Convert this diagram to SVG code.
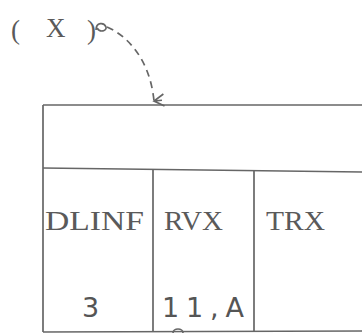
<svg xmlns="http://www.w3.org/2000/svg" width="362" height="335" viewBox="0 0 362 335">
<style>
.ln{stroke:#666;stroke-width:1.7;fill:none}
.tx{font-family:"Liberation Serif","DejaVu Serif",serif;fill:#5a5a5a;font-size:27px}
.nm{font-family:"DejaVu Sans","Liberation Sans",sans-serif;fill:#555;font-size:27px}
</style>
<defs>
<marker id="ah" markerWidth="14" markerHeight="14" refX="7" refY="12" orient="auto" markerUnits="userSpaceOnUse" viewBox="0 0 14 14">
<path d="M1,2 L7,12 L13,2 M7,12 L7,4" stroke="#666" stroke-width="1.7" fill="none"/>
</marker>
</defs>
<rect width="362" height="335" fill="#fff"/>
<g id="label-x">
<text class="tx" x="11" y="39" font-size="38">(</text>
<text class="tx" x="46" y="37">X</text>
<text class="tx" x="87" y="39" font-size="38">)</text>
</g>
<g id="connectors">
<path class="ln" d="M96,30 C96,22 104,22 106,27 C107,31 100,33 97,28" stroke-width="1.2"/>
<path class="ln" d="M107,27 C128,36 150,60 154,101" stroke-dasharray="7,5" marker-end="url(#ah)"/>
</g>
<g id="record">
<path class="ln" d="M43,105 L362,105"/>
<path class="ln" d="M43,105 L43,332"/>
<path class="ln" d="M43,168 L362,172"/>
<path class="ln" d="M153,169 L153,332"/>
<path class="ln" d="M254,171 L254,332"/>
<path class="ln" d="M43,332 L362,331"/>
<path class="ln" d="M173,333 A5,4 0 0 1 183,333" stroke-width="1.2"/>
</g>
<g id="cell-dlinf">
<text class="tx" x="45" y="230" textLength="99" lengthAdjust="spacingAndGlyphs">DLINF</text>
<text class="nm" x="82" y="317">3</text>
</g>
<g id="cell-rvx">
<text class="tx" x="164" y="230" textLength="59" lengthAdjust="spacingAndGlyphs">RVX</text>
<text class="nm" x="162" y="317" textLength="82" lengthAdjust="spacing">11,A</text>
</g>
<g id="cell-trx">
<text class="tx" x="266" y="230" textLength="59" lengthAdjust="spacingAndGlyphs">TRX</text>
</g>
</svg>
